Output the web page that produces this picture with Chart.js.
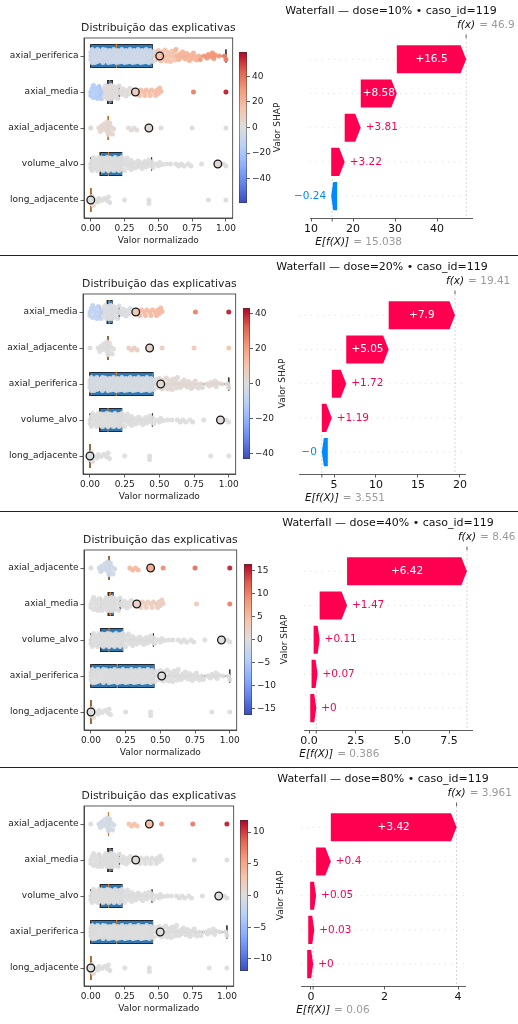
<!DOCTYPE html>
<html lang="pt">
<head>
<meta charset="utf-8">
<title>SHAP por dose</title>
<script src="https://cdn.jsdelivr.net/npm/chart.js@4.4.1/dist/chart.umd.min.js"></script>
<style>
  html, body { margin: 0; padding: 0; background: #fff; }
  body { position: relative; width: 518px; height: 1024px; overflow: hidden; }
  canvas { position: absolute; }
  .sep { position: absolute; left: 0; width: 518px; height: 1px; background: #222; }
</style>
</head>
<body>
<div class="sep" style="top:255px"></div>
<div class="sep" style="top:511px"></div>
<div class="sep" style="top:767px"></div>
<script>
const casoId = 119;
const doseLabels = ["10%", "20%", "40%", "80%"];
const featureNames = ["axial_periferica", "axial_media", "axial_adjacente", "volume_alvo", "long_adjacente"];

// valor normalizado de cada caso (igual nas quatro doses)
const valsAxialPeriferica = [0.00, 0.00, 0.00, 0.01, 0.01, 0.02, 0.02, 0.02, 0.03, 0.03, 0.04, 0.04, 0.05, 0.05, 0.05,
  0.06, 0.06, 0.07, 0.07, 0.08, 0.08, 0.08, 0.09, 0.09, 0.10, 0.10, 0.11, 0.11, 0.11, 0.12, 0.12, 0.13, 0.13, 0.14, 0.14,
  0.14, 0.15, 0.15, 0.16, 0.16, 0.17, 0.17, 0.17, 0.18, 0.18, 0.19, 0.19, 0.20, 0.20, 0.20, 0.21, 0.21, 0.22, 0.22, 0.23,
  0.23, 0.23, 0.24, 0.24, 0.25, 0.25, 0.26, 0.26, 0.26, 0.27, 0.27, 0.28, 0.28, 0.29, 0.29, 0.29, 0.30, 0.30, 0.31, 0.31,
  0.32, 0.32, 0.32, 0.33, 0.33, 0.34, 0.34, 0.35, 0.35, 0.35, 0.36, 0.36, 0.37, 0.37, 0.38, 0.38, 0.38, 0.39, 0.39, 0.40,
  0.40, 0.41, 0.41, 0.41, 0.42, 0.42, 0.43, 0.43, 0.44, 0.44, 0.45, 0.45, 0.46, 0.47, 0.48, 0.49, 0.50, 0.50, 0.51, 0.52,
  0.53, 0.53, 0.54, 0.55, 0.56, 0.56, 0.57, 0.58, 0.59, 0.59, 0.60, 0.61, 0.62, 0.62, 0.63, 0.64, 0.65, 0.66, 0.67, 0.68,
  0.69, 0.70, 0.71, 0.72, 0.73, 0.74, 0.75, 0.76, 0.77, 0.78, 0.80, 0.81, 0.84, 0.86, 0.87, 0.89, 0.90, 0.91, 0.92, 0.95,
  0.99, 1.00];
const valsAxialMedia = [0.00, 0.00, 0.01, 0.02, 0.02, 0.03, 0.04, 0.04, 0.05, 0.06, 0.06, 0.07, 0.08, 0.08, 0.09, 0.10,
  0.10, 0.11, 0.11, 0.12, 0.12, 0.12, 0.13, 0.13, 0.13, 0.13, 0.14, 0.14, 0.14, 0.14, 0.15, 0.15, 0.15, 0.16, 0.16, 0.17,
  0.17, 0.18, 0.18, 0.19, 0.20, 0.20, 0.21, 0.22, 0.23, 0.24, 0.25, 0.26, 0.27, 0.28, 0.29, 0.31, 0.35, 0.36, 0.37, 0.39,
  0.40, 0.41, 0.43, 0.44, 0.45, 0.47, 0.48, 0.49, 0.50, 0.51, 0.52, 0.76, 1.00];
const valsAxialAdjacente = [0.00, 0.06, 0.07, 0.08, 0.09, 0.10, 0.11, 0.12, 0.12, 0.13, 0.13, 0.13, 0.14, 0.14, 0.15,
  0.16, 0.17, 0.28, 0.30, 0.32, 0.34, 0.52, 0.75, 1.00];
const valsVolumeAlvo = [0.00, 0.00, 0.01, 0.01, 0.02, 0.02, 0.03, 0.03, 0.04, 0.04, 0.05, 0.05, 0.05, 0.06, 0.06, 0.07,
  0.07, 0.07, 0.08, 0.08, 0.09, 0.09, 0.09, 0.10, 0.10, 0.11, 0.11, 0.11, 0.12, 0.12, 0.13, 0.13, 0.13, 0.14, 0.14, 0.15,
  0.15, 0.15, 0.16, 0.16, 0.17, 0.17, 0.17, 0.18, 0.18, 0.19, 0.19, 0.20, 0.20, 0.21, 0.21, 0.22, 0.22, 0.23, 0.23, 0.24,
  0.25, 0.25, 0.26, 0.27, 0.27, 0.28, 0.29, 0.30, 0.30, 0.31, 0.32, 0.33, 0.34, 0.35, 0.36, 0.37, 0.38, 0.39, 0.40, 0.41,
  0.42, 0.43, 0.44, 0.45, 0.46, 0.48, 0.50, 0.51, 0.53, 0.56, 0.59, 0.63, 0.65, 0.67, 0.69, 0.72, 0.74, 0.82, 0.98, 1.00];
const valsLongAdjacente = [0.00, 0.00, 0.01, 0.02, 0.03, 0.05, 0.06, 0.08, 0.10, 0.12, 0.13, 0.14, 0.25, 0.43, 0.43,
  0.87, 1.00];

// caso_id=119, na ordem de featureNames
const caseValues = [0.51, 0.33, 0.43, 0.94, 0.00];

// boxplot (ordem de featureNames)
const boxWhiskLo = [0.00, 0.07, 0.13, 0.00, 0.00];
const boxQ1 = [0.00, 0.125, 0.13, 0.07, 0.00];
const boxMedian = [0.19, 0.14, 0.13, 0.13, 0.00];
const boxQ3 = [0.46, 0.165, 0.13, 0.235, 0.00];
const boxWhiskHi = [1.00, 0.21, 0.13, 0.45, 0.00];
const beeTicks = ["0.00", "0.25", "0.50", "0.75", "1.00"];

// ordem das explicativas em cada dose (de cima para baixo)
const order10 = ["axial_periferica", "axial_media", "axial_adjacente", "volume_alvo", "long_adjacente"];
const order20 = ["axial_media", "axial_adjacente", "axial_periferica", "volume_alvo", "long_adjacente"];
const order40 = ["axial_adjacente", "axial_media", "volume_alvo", "axial_periferica", "long_adjacente"];
const order80 = ["axial_adjacente", "axial_media", "volume_alvo", "axial_periferica", "long_adjacente"];

// valores SHAP do caso (mesma ordem)
const shap10 = [16.5, 8.58, 3.81, 3.22, -0.24];
const shap20 = [7.9, 5.05, 1.72, 1.19, -0.002];
const shap40 = [6.42, 1.47, 0.11, 0.07, 0.001];
const shap80 = [3.42, 0.4, 0.05, 0.03, 0.001];

const baseValues = [15.038, 3.551, 0.386, 0.06];
const fxValues = [46.9, 19.41, 8.46, 3.961];

// eixo do waterfall
const wfRange10 = [9.76, 48.3];
const wfRange20 = [0.83, 20.6];
const wfRange40 = [-0.27, 8.73];
const wfRange80 = [-0.27, 4.19];
const wfTicks10 = ["10", "20", "30", "40"];
const wfTicks20 = ["5", "10", "15", "20"];
const wfTicks40 = ["0.0", "2.5", "5.0", "7.5"];
const wfTicks80 = ["0", "2", "4"];

// barra de cores
const cbarMax = [59, 43, 16.4, 11.9];
const cbarTicks10 = [-40, -20, 0, 20, 40];
const cbarTicks20 = [-40, -20, 0, 20, 40];
const cbarTicks40 = [-15, -10, -5, 0, 5, 10, 15];
const cbarTicks80 = [-10, -5, 0, 5, 10];

// cor dos pontos: SHAP por faixa de valor normalizado [ate x, SHAP]
const bands10 = {
  axial_periferica: [[0.47, -6], [0.62, 14], [0.8, 20], [0.95, 30], [1, 36]],
  axial_media: [[0.095, -16], [0.33, 1], [0.6, 17], [0.9, 36], [1, 55]],
  axial_adjacente: [[0.2, 4], [1, 1]],
  volume_alvo: [[1, 0]],
  long_adjacente: [[0.06, 2], [1, 0]]
};
const bands20 = {
  axial_periferica: [[0.47, -2], [1, 2]],
  axial_media: [[0.095, -8], [0.33, -1], [0.6, 13], [0.9, 26], [1, 40]],
  axial_adjacente: [[0.2, 0], [0.6, 6], [0.9, 9], [1, 10]],
  volume_alvo: [[1, 0]],
  long_adjacente: [[1, 0]]
};
const bands40 = {
  axial_periferica: [[1, 0]],
  axial_media: [[0.3, 0], [0.6, 2.5], [0.9, 3], [1, 10]],
  axial_adjacente: [[0.03, 0], [0.2, -1.5], [0.47, 5], [0.6, 9], [0.9, 11], [1, 15]],
  volume_alvo: [[1, 0]],
  long_adjacente: [[1, 0]]
};
const bands80 = {
  axial_periferica: [[1, 0]],
  axial_media: [[1, 0]],
  axial_adjacente: [[0.03, 0], [0.2, -0.8], [0.47, 3], [0.6, 6], [0.9, 7.5], [1, 11]],
  volume_alvo: [[1, 0]],
  long_adjacente: [[1, 0]]
};

// posicoes na pagina (px)
const panelLayout = [
  {bee: [84, 236], cbar: [239, 247], cbarLabelX: 278, wf: [310, 472]},
  {bee: [83, 239], cbar: [243, 250], cbarLabelX: 283, wf: [299, 465]},
  {bee: [84, 240], cbar: [244, 252], cbarLabelX: 285, wf: [304, 472]},
  {bee: [84, 237], cbar: [240, 248], cbarLabelX: 281, wf: [301, 465]}
];

const featureValues = [valsAxialPeriferica, valsAxialMedia, valsAxialAdjacente, valsVolumeAlvo, valsLongAdjacente];
const panels = [
  {order: order10, shap: shap10, bands: bands10, range: wfRange10, ticks: wfTicks10, cticks: cbarTicks10},
  {order: order20, shap: shap20, bands: bands20, range: wfRange20, ticks: wfTicks20, cticks: cbarTicks20},
  {order: order40, shap: shap40, bands: bands40, range: wfRange40, ticks: wfTicks40, cticks: cbarTicks40},
  {order: order80, shap: shap80, bands: bands80, range: wfRange80, ticks: wfTicks80, cticks: cbarTicks80}
].map((p, i) => Object.assign(p, {dose: doseLabels[i], base: baseValues[i], fx: fxValues[i], cmax: cbarMax[i]}));

Chart.defaults.font.family = '"DejaVu Sans", sans-serif';
Chart.defaults.color = '#222';

const FONT = '"DejaVu Sans", sans-serif';
const coolwarmStops = [[59, 76, 192], [98, 130, 234], [141, 176, 254], [184, 208, 249], [221, 221, 221],
  [245, 196, 173], [244, 154, 123], [222, 96, 77], [180, 4, 38]];

function shapColor(s, vmax, alpha = 1) {
  const n = coolwarmStops.length - 1;
  const t = Math.min(1, Math.max(0, (s + vmax) / (2 * vmax))) * n;
  const i = Math.min(Math.floor(t), n - 1), f = t - i;
  const a = coolwarmStops[i], b = coolwarmStops[i + 1];
  const c = a.map((v, k) => Math.round(v + (b[k] - v) * f));
  return `rgba(${c[0]},${c[1]},${c[2]},${alpha})`;
}

function bandShap(bands, v) {
  for (const [lim, s] of bands) if (v <= lim + 1e-9) return s;
  return bands[bands.length - 1][1];
}

function fmtShap(v) {
  const s = Math.abs(v).toFixed(2).replace(/0+$/, '').replace(/\.$/, '');
  return (v < 0 ? '\u2212' : '+') + s;
}

// deslocamento vertical dos pontos (enxame), em fracao de linha
function swarmOffsets(xs) {
  const placed = [];
  const cands = [0];
  for (let k = 1; k <= 13; k++) cands.push(k * 0.5, -k * 0.5);
  return xs.map(v => {
    const px = v * 139;
    let best = 0, bestD = -1;
    for (const c of cands) {
      let dmin = Infinity;
      for (const q of placed) {
        if (Math.abs(q[0] - px) > 5) continue;
        dmin = Math.min(dmin, Math.hypot(q[0] - px, q[1] - c));
      }
      if (dmin >= 3.4) { best = c; break; }
      if (dmin > bestD) { bestD = dmin; best = c; }
    }
    placed.push([px, best]);
    return best / 36;
  });
}
const offsets = featureValues.map(swarmOffsets);

function addCanvas(left, top, w, h) {
  const c = document.createElement('canvas');
  c.width = w; c.height = h;
  c.style.left = left + 'px'; c.style.top = top + 'px';
  c.style.width = w + 'px'; c.style.height = h + 'px';
  document.body.appendChild(c);
  return c;
}

const gap = () => ({x: null, y: null});

function makeBeeswarm(p, lay, top) {
  const canvas = addCanvas(0, top, lay.bee[1] + 2, 256);
  const rowOf = f => p.order.indexOf(featureNames[f]);
  const points = [], colors = [];
  featureValues.forEach((xs, f) => {
    xs.forEach((v, k) => {
      points.push({x: v, y: rowOf(f) + offsets[f][k]});
      colors.push(shapColor(bandShap(p.bands[featureNames[f]], v), p.cmax, 0.95));
    });
  });
  const boxes = featureNames.map((n, f) => ({y: rowOf(f), x: [boxQ1[f], boxQ3[f]]}));
  const whiskers = [], medians = [];
  featureNames.forEach((n, f) => {
    const r = rowOf(f);
    whiskers.push({x: boxWhiskLo[f], y: r}, {x: boxQ1[f], y: r}, gap(),
      {x: boxQ3[f], y: r}, {x: boxWhiskHi[f], y: r}, gap(),
      {x: boxWhiskLo[f], y: r - 0.18}, {x: boxWhiskLo[f], y: r + 0.18}, gap(),
      {x: boxWhiskHi[f], y: r - 0.18}, {x: boxWhiskHi[f], y: r + 0.18}, gap(),
      {x: boxQ1[f], y: r - 0.333}, {x: boxQ1[f], y: r + 0.333}, gap());
    medians.push({x: boxMedian[f], y: r - 0.333}, {x: boxMedian[f], y: r + 0.333}, gap());
  });
  const highlight = featureNames.map((n, f) => ({x: caseValues[f], y: rowOf(f)}));
  const highlightColors = featureNames.map((n, f) => shapColor(p.shap[rowOf(f)], p.cmax));

  const frameTitle = {
    id: 'frameTitle',
    afterDraw(chart) {
      const {ctx, chartArea: a} = chart;
      ctx.save();
      ctx.strokeStyle = '#333';
      ctx.lineWidth = 0.8;
      ctx.strokeRect(a.left, a.top, a.right - a.left, a.bottom - a.top);
      ctx.font = '10.8px ' + FONT;
      ctx.fillStyle = '#222';
      ctx.textAlign = 'center';
      ctx.textBaseline = 'middle';
      ctx.fillText('Distribuição das explicativas', (a.left + a.right) / 2, 28);
      ctx.restore();
    }
  };

  new Chart(canvas, {
    type: 'scatter',
    data: {
      datasets: [
        {type: 'scatter', data: highlight, order: 0, pointRadius: 3.8, pointBorderWidth: 1.3,
          pointBorderColor: '#1a1a1a', pointBackgroundColor: highlightColors},
        {type: 'scatter', data: points, order: 1, pointRadius: 2.5, pointBorderWidth: 0,
          pointBackgroundColor: colors},
        {type: 'line', data: medians, order: 2, borderColor: '#cf7a30', borderWidth: 1.2,
          pointRadius: 0, spanGaps: false, showLine: true, fill: false},
        {type: 'line', data: whiskers, order: 3, borderColor: '#2b2b2b', borderWidth: 0.9,
          pointRadius: 0, spanGaps: false, showLine: true, fill: false},
        {type: 'bar', data: boxes, order: 4, indexAxis: 'y', backgroundColor: '#2b79b6',
          borderColor: '#1c2733', borderWidth: 1, borderSkipped: false,
          barPercentage: 0.667, categoryPercentage: 1}
      ]
    },
    options: {
      animation: false, responsive: false, events: [],
      layout: {padding: {top: 38, right: 2, left: 0, bottom: 0}},
      plugins: {legend: {display: false}, tooltip: {enabled: false}},
      scales: {
        x: {
          type: 'linear', min: -0.05, max: 1.05,
          afterBuildTicks: s => { s.ticks = beeTicks.map(t => ({value: parseFloat(t)})); },
          afterFit: s => { s.height = 38; s.paddingLeft = 0; s.paddingRight = 0; },
          ticks: {autoSkip: false, maxRotation: 0, padding: 1.5, font: {size: 9}, color: '#222',
            callback: (v, i) => beeTicks[i]},
          grid: {drawOnChartArea: false, tickLength: 3.5, color: '#333', tickWidth: 0.8},
          border: {color: '#333', width: 0.8},
          title: {display: true, text: 'Valor normalizado', font: {size: 9}, color: '#222',
            padding: {top: 0, bottom: 9.5}}
        },
        y: {
          type: 'linear', min: -0.5, max: 4.5, reverse: true, offset: false,
          afterBuildTicks: s => { s.ticks = p.order.map((_, i) => ({value: i})); },
          afterFit: s => { s.width = lay.bee[0]; s.paddingTop = 0; s.paddingBottom = 0; },
          ticks: {autoSkip: false, padding: 2, font: {size: 9}, color: '#222',
            callback: (v, i) => p.order[i]},
          grid: {drawOnChartArea: false, offset: false, tickLength: 3.5, color: '#333', tickWidth: 0.8},
          border: {color: '#333', width: 0.8}
        }
      }
    },
    plugins: [frameTitle]
  });
}

function makeColorbar(p, lay, top) {
  const left = lay.cbar[0] - 2;
  const w = lay.cbarLabelX + 10 - left;
  const canvas = addCanvas(left, top, w, 256);
  const barW = lay.cbar[1] - lay.cbar[0];

  const label = {
    id: 'cbarLabel',
    afterDraw(chart) {
      const {ctx, chartArea: a} = chart;
      ctx.save();
      ctx.translate(lay.cbarLabelX - left, (a.top + a.bottom) / 2);
      ctx.rotate(-Math.PI / 2);
      ctx.font = '9px ' + FONT;
      ctx.fillStyle = '#222';
      ctx.textAlign = 'center';
      ctx.textBaseline = 'middle';
      ctx.fillText('Valor SHAP', 0, 0);
      ctx.restore();
    }
  };

  new Chart(canvas, {
    type: 'bar',
    data: {
      labels: [''],
      datasets: [{
        data: [[-p.cmax, p.cmax]],
        backgroundColor: c => {
          const a = c.chart.chartArea;
          if (!a) return '#ddd';
          const g = c.chart.ctx.createLinearGradient(0, a.bottom, 0, a.top);
          coolwarmStops.forEach((s, k) => g.addColorStop(k / (coolwarmStops.length - 1), `rgb(${s[0]},${s[1]},${s[2]})`));
          return g;
        },
        borderColor: '#333', borderWidth: 0.8, borderSkipped: false,
        barPercentage: 1, categoryPercentage: 1
      }]
    },
    options: {
      animation: false, responsive: false, events: [],
      layout: {padding: {left: 2, top: 52, bottom: 53, right: 0}},
      plugins: {legend: {display: false}, tooltip: {enabled: false}},
      scales: {
        x: {display: false},
        y: {
          position: 'right', min: -p.cmax, max: p.cmax,
          afterBuildTicks: s => { s.ticks = p.cticks.map(v => ({value: v})); },
          afterFit: s => { s.width = w - 2 - barW; s.paddingTop = 0; s.paddingBottom = 0; },
          ticks: {autoSkip: false, padding: 2, font: {size: 9}, color: '#222',
            callback: v => String(v).replace('-', '\u2212')},
          grid: {drawOnChartArea: false, tickLength: 3, color: '#333', tickWidth: 0.8},
          border: {display: false}
        }
      }
    },
    plugins: [label]
  });
}

function makeWaterfall(p, lay, top) {
  const left = 260, w = 258;
  const canvas = addCanvas(left, top, w, 256);
  const n = p.shap.length;
  const segs = [];
  let cur = p.base;
  for (let i = n - 1; i >= 0; i--) { segs[i] = [cur, cur + p.shap[i]]; cur += p.shap[i]; }

  const decor = {
    id: 'wfDecor',
    beforeDatasetsDraw(chart) {
      const {ctx, chartArea: a, scales: {x, y}} = chart;
      ctx.save();
      ctx.lineWidth = 0.6;
      ctx.strokeStyle = '#cccccc';
      ctx.setLineDash([1, 5]);
      for (let i = 0; i < n; i++) {
        const yy = y.getPixelForValue(i);
        ctx.beginPath(); ctx.moveTo(a.left, yy); ctx.lineTo(a.right, yy); ctx.stroke();
      }
      ctx.strokeStyle = '#bbbbbb';
      ctx.setLineDash([2, 2]);
      const fxPx = x.getPixelForValue(p.fx);
      ctx.beginPath(); ctx.moveTo(fxPx, a.top); ctx.lineTo(fxPx, a.bottom); ctx.stroke();
      const bPx = x.getPixelForValue(p.base);
      ctx.beginPath(); ctx.moveTo(bPx, y.getPixelForValue(n - 1.5)); ctx.lineTo(bPx, a.bottom); ctx.stroke();
      ctx.restore();
    },
    afterDatasetsDraw(chart) {
      const {ctx} = chart;
      const meta = chart.getDatasetMeta(0);
      ctx.save();
      ctx.font = '10.5px ' + FONT;
      ctx.textBaseline = 'middle';
      meta.data.forEach((bar, i) => {
        const v = p.shap[i], dir = v < 0 ? -1 : 1;
        const lo = Math.min(bar.x, bar.base), hi = Math.max(bar.x, bar.base);
        const tip = dir > 0 ? hi : lo;
        let tail = dir > 0 ? lo : hi;
        let hl = 5.5;
        if (Math.abs(tip - tail) < 6) { tail = tip - dir * 6; hl = 2; }
        hl = Math.min(hl, Math.abs(tip - tail));
        const h = bar.height, yc = bar.y, neck = tip - dir * hl;
        const color = dir > 0 ? '#ff0051' : '#008bfb';
        ctx.fillStyle = color;
        ctx.beginPath();
        ctx.moveTo(tail, yc - h / 2);
        ctx.lineTo(neck, yc - h / 2);
        ctx.lineTo(tip, yc);
        ctx.lineTo(neck, yc + h / 2);
        ctx.lineTo(tail, yc + h / 2);
        ctx.closePath();
        ctx.fill();

        const txt = fmtShap(v);
        const tw = ctx.measureText(txt).width;
        const width = Math.abs(tip - tail);
        if (tw < width - 2) {
          ctx.fillStyle = '#fff';
          ctx.textAlign = 'center';
          ctx.fillText(txt, (tip + tail) / 2, yc);
        } else {
          ctx.fillStyle = color;
          ctx.textAlign = dir > 0 ? 'left' : 'right';
          ctx.fillText(txt, tip + dir * 5, yc);
        }
      });
      ctx.restore();
    },
    afterDraw(chart) {
      const {ctx, chartArea: a, scales: {x}} = chart;
      ctx.save();
      ctx.fillStyle = '#111';
      ctx.textBaseline = 'middle';
      ctx.textAlign = 'center';
      ctx.font = '11px ' + FONT;
      ctx.fillText(`Waterfall \u2014 dose=${p.dose} \u2022 caso_id=${casoId}`, (a.left + a.right) / 2, 11);

      ctx.strokeStyle = '#333';
      ctx.lineWidth = 0.8;
      const fxPx = x.getPixelForValue(p.fx);
      ctx.beginPath(); ctx.moveTo(fxPx, a.top - 3.5); ctx.lineTo(fxPx, a.top); ctx.stroke();
      const bPx = x.getPixelForValue(p.base);
      ctx.beginPath(); ctx.moveTo(bPx, a.bottom); ctx.lineTo(bPx, a.bottom + 3.5); ctx.stroke();

      const pair = (label, value, cx, cy) => {
        ctx.font = 'italic 10.5px ' + FONT;
        ctx.textAlign = 'center';
        ctx.fillStyle = '#111';
        const lw = ctx.measureText(label).width;
        ctx.fillText(label, cx, cy);
        ctx.font = '10.5px ' + FONT;
        ctx.textAlign = 'left';
        ctx.fillStyle = '#9a9a9a';
        ctx.fillText('= ' + value, cx + lw / 2 + 4, cy);
      };
      pair('f(x)', String(p.fx), fxPx, 25);
      pair('E[f(X)]', String(p.base), bPx, 242);
      ctx.restore();
    }
  };

  new Chart(canvas, {
    type: 'bar',
    data: {
      datasets: [{
        data: segs.map((s, i) => ({y: i, x: s})),
        backgroundColor: 'rgba(0,0,0,0)', borderWidth: 0,
        barPercentage: 0.82, categoryPercentage: 1
      }]
    },
    options: {
      indexAxis: 'y', animation: false, responsive: false, events: [],
      layout: {padding: {left: lay.wf[0] - left, right: left + w - lay.wf[1], top: 38, bottom: 0}},
      plugins: {legend: {display: false}, tooltip: {enabled: false}},
      scales: {
        x: {
          type: 'linear', min: p.range[0], max: p.range[1],
          afterBuildTicks: s => { s.ticks = p.ticks.map(t => ({value: parseFloat(t)})); },
          afterFit: s => { s.height = 38; s.paddingLeft = 0; s.paddingRight = 0; },
          ticks: {autoSkip: false, maxRotation: 0, padding: 1.5, font: {size: 11}, color: '#111',
            callback: (v, i) => p.ticks[i]},
          grid: {drawOnChartArea: false, tickLength: 3.5, color: '#333', tickWidth: 0.8},
          border: {color: '#333', width: 0.8}
        },
        y: {
          type: 'linear', min: -0.62, max: 4.64, reverse: true, offset: false, display: false,
          afterBuildTicks: s => { s.ticks = p.shap.map((_, i) => ({value: i})); },
          grid: {offset: false}
        }
      }
    },
    plugins: [decor]
  });
}

panels.forEach((p, i) => {
  const top = i * 256;
  makeBeeswarm(p, panelLayout[i], top);
  makeColorbar(p, panelLayout[i], top);
  makeWaterfall(p, panelLayout[i], top);
});
</script>
</body>
</html>
